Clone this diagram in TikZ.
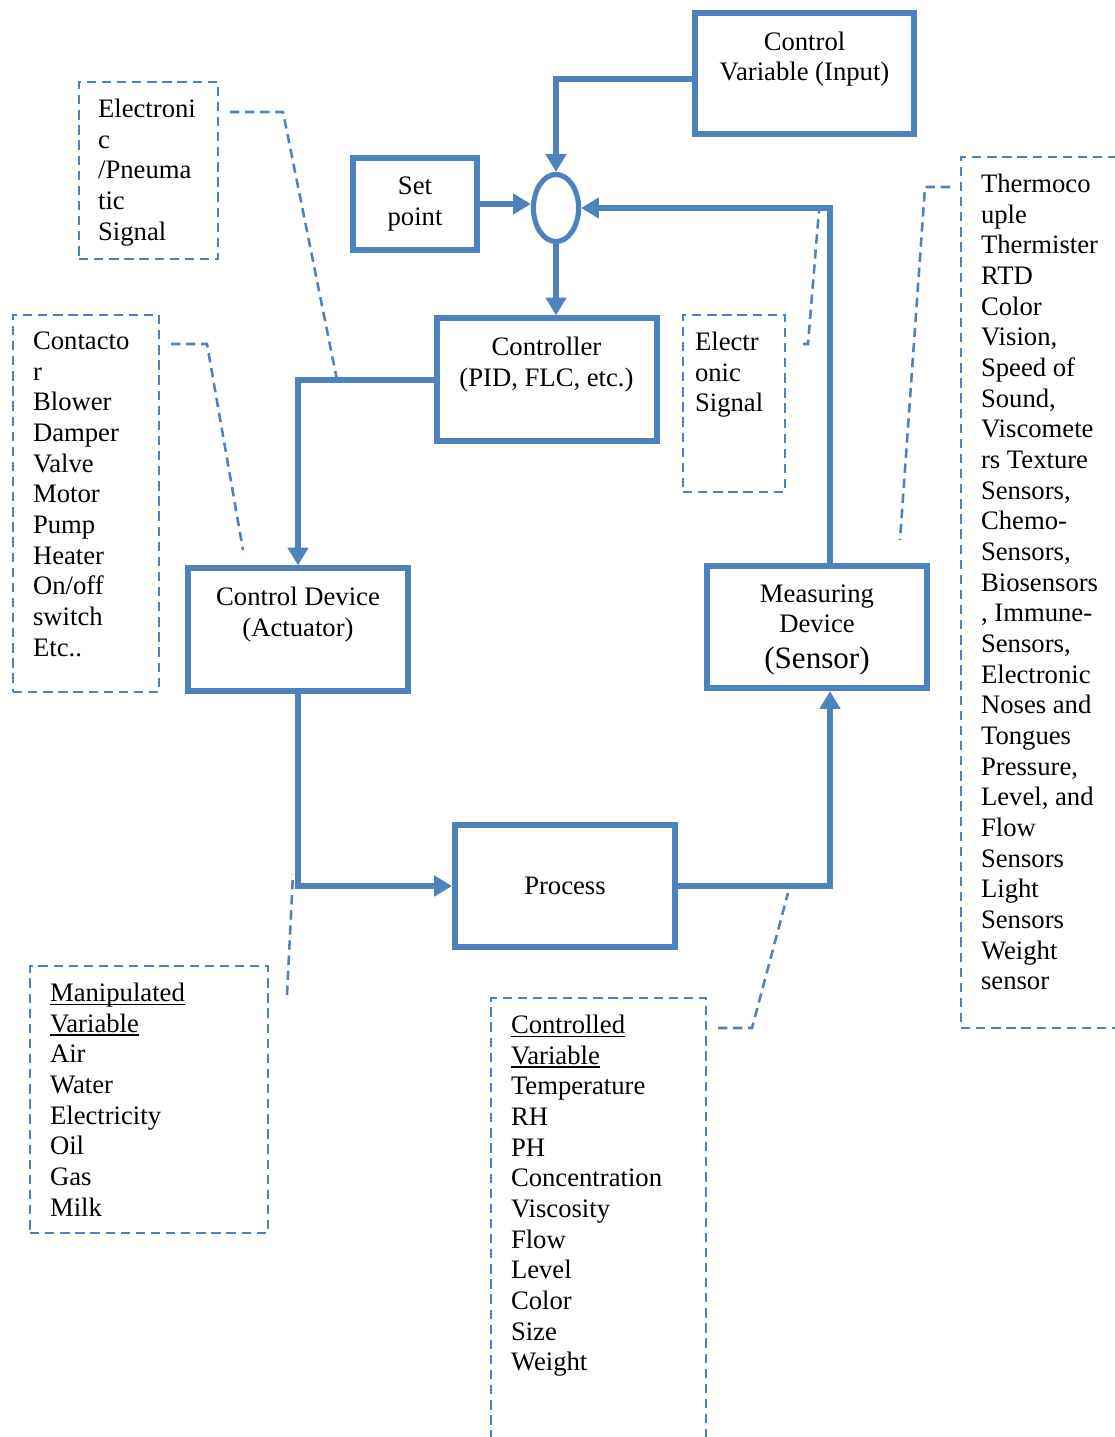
\documentclass[tikz,border=0pt]{standalone}
\usepackage{fontspec}
\setmainfont{Liberation Serif}
\usetikzlibrary{positioning,shapes.geometric,arrows.meta}
\definecolor{wordblue}{HTML}{4F81BD}
\newcommand\uln[1]{\setbox0\hbox{#1}\rlap{\rule[-1.6pt]{\wd0}{0.6pt}}\box0}

\begin{document}
\begin{tikzpicture}[x=0.45pt,y=-0.45pt,font=\fontsize{12}{13.8}\selectfont,
   blk/.style={draw=wordblue,line width=2.7pt,minimum width=99pt,minimum height=55pt,inner sep=0pt},
   note/.style={draw=wordblue,line width=1.15pt,dash pattern=on 4.2pt off 2.6pt,inner sep=0pt},
   txt/.style={inner sep=0pt,align=left},
   ctr/.style={inner sep=0pt,align=center},
   wire/.style={draw=wordblue,line width=2.7pt,-{Triangle[length=8pt,width=9pt]}},
   leader/.style={draw=wordblue,line width=1.15pt,dash pattern=on 4.2pt off 2.6pt}]
   \useasboundingbox (0,0) rectangle (1115,1437);

   \node[blk,minimum width=98.6pt,minimum height=54.5pt] (cv) at (804.5,73.5) {};
   \node[blk,minimum width=55.8pt,minimum height=41.4pt] (sp) at (415,204) {};
   \node[ellipse,draw=wordblue,line width=2.3pt,minimum width=20.3pt,minimum height=30.2pt,inner sep=0pt] (sum) at (556,208) {};
   \node[blk] (ctl) at (546.5,379.5) {};
   \node[blk] (act) at (298,629.5) {};
   \node[blk] (meas) at (817,627) {};
   \node[blk] (proc) at (565,886) {Process};

   \node[ctr,below=9.6pt of cv.north] (cvt) {Control\\Variable (Input)};
   \node[ctr,below=9.6pt of sp.north] (spt) {Set\\point};
   \node[ctr,below=9.6pt of ctl.north] (ctlt) {Controller\\(PID, FLC, etc.)};
   \node[ctr,below=9.6pt of act.north] (actt) {Control Device\\(Actuator)};
   \node[ctr,below=9.6pt of meas.north] (meast) {Measuring\\Device\\[2pt]{\fontsize{14}{16}\selectfont (Sensor)}};

   \draw[wire] ([yshift=-2.5pt]cv.west) -| (sum.north);
   \draw[wire] (sp.east) -- (sp.east -| sum.west);
   \draw[wire] (sum.south) -- (ctl.north -| sum.south);
   \draw[wire] (ctl.west) -| (act.north);
   \draw[wire] (act.south) |- (proc.west);
   \draw[wire] (proc.east) -| ([xshift=5.85pt]meas.south);
   \draw[wire] ([xshift=5.85pt]meas.north) |- (sum.east);

   \node[note,minimum width=62.6pt,minimum height=79.7pt] (eps) at (148.5,170.5) {};
   \node[note,minimum width=65.7pt,minimum height=169.7pt] (actl) at (86,503.5) {};
   \node[note,minimum width=45.9pt,minimum height=79.7pt] (esig) at (734,403.5) {};
   \node[note,minimum width=73.8pt,minimum height=392pt] (sens) at (1043,592.5) {};
   \node[note,minimum width=107.1pt,minimum height=120.2pt] (mvar) at (149,1099.5) {};
   \node[note,minimum width=96.8pt,minimum height=203.4pt] (cvar) at (598.5,1224) {};

   \node[txt,below right=8pt and 9pt of eps.north west] (epst) {Electroni\\c\\/Pneuma\\tic\\Signal};
   \node[txt,below right=8pt and 9.4pt of actl.north west] (actlt)
     {Contacto\\r\\Blower\\Damper\\Valve\\Motor\\Pump\\Heater\\On/off\\switch\\Etc..};
   \node[txt,below right=8pt and 5.8pt of esig.north west] (esigt) {Electr\\onic\\Signal};
   \node[txt,below right=8pt and 9.4pt of sens.north west] (senst)
     {Thermoco\\uple\\Thermister\\RTD\\Color\\Vision,\\Speed of\\Sound,\\Viscomete\\rs Texture\\
      Sensors,\\Chemo-\\Sensors,\\Biosensors\\, Immune-\\Sensors,\\Electronic\\Noses and\\Tongues\\
      Pressure,\\Level, and\\Flow\\Sensors\\Light\\Sensors\\Weight\\sensor};
   \node[txt,below right=8pt and 9.4pt of mvar.north west] (mvart)
     {\uln{Manipulated}\\\uln{Variable}\\Air\\Water\\Electricity\\Oil\\Gas\\Milk};
   \node[txt,below right=8pt and 9.4pt of cvar.north west] (cvart)
     {\uln{Controlled}\\\uln{Variable}\\Temperature\\RH\\PH\\Concentration\\Viscosity\\
      Flow\\Level\\Color\\Size\\Weight};

   \foreach \n/\x/\y in {e1/230/112, e2/283/112, e3/337/380,
                         a1/171/344, a2/207/344, a3/243/550,
                         s1/803/344, s2/808/344, s3/819/210,
                         t1/950/187, t2/925/187, t3/900/540,
                         c1/718/1028, c2/752/1028, c3/788/893,
                         m1/287/995, m2/293/874}
     \coordinate (\n) at (\x,\y);
   \foreach \a/\b/\c in {e1/e2/e3, a1/a2/a3, s1/s2/s3, t1/t2/t3, c1/c2/c3}
     \draw[leader] (\a) -- (\b) -- (\c);
   \draw[leader] (m1) -- (m2);
\end{tikzpicture}
\end{document}
